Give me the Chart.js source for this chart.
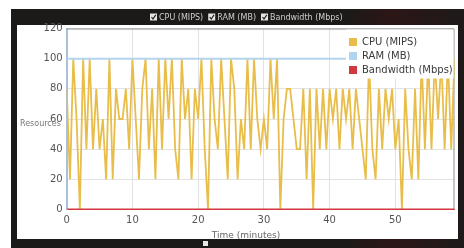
<!DOCTYPE html>
<html>
<head>
<meta charset="utf-8">
<script src="https://cdn.jsdelivr.net/npm/chart.js@4/dist/chart.umd.min.js"></script>
<style>
  html, body { margin: 0; padding: 0; background: #fff; }
  #wrap { position: relative; width: 464px; height: 248px; overflow: hidden; }
  #frame { position: absolute; left: 11px; top: 9px; width: 453px; height: 239px;
    background: linear-gradient(90deg, #1c1a18 0%, #1c1a18 74%, #2c1616 84%, #1e1a19 100%); }
  #panel { position: absolute; left: 17px; top: 25px; width: 441px; height: 214px; background: #fff; }
  #mark { position: absolute; left: 203px; top: 241px; width: 5px; height: 5px; background: #e8e8e8; }
  canvas { position: absolute; left: 0; top: 0; }
</style>
</head>
<body>
<div id="wrap">
  <div id="frame"></div>
  <div id="panel"></div>
  <div id="mark"></div>
  <canvas id="resChart" width="464" height="248"></canvas>
</div>
<script>
// sampling interval of the CPU series, in minutes
const step = 0.5;

// CPU (MIPS), one value every half minute from 0 to 59
const cpuMips = [
  80, 20, 100, 60, 0, 100, 40, 100, 40, 80,
  40, 60, 20, 100, 20, 80, 60, 60, 80, 40,
  100, 60, 20, 80, 100, 40, 80, 20, 100, 40,
  100, 60, 100, 40, 20, 100, 60, 80, 20, 80,
  60, 100, 40, 0, 100, 60, 40, 100, 60, 20,
  100, 80, 20, 60, 40, 100, 40, 100, 60, 40,
  60, 40, 100, 60, 100, 0, 60, 80, 80, 60,
  40, 40, 80, 20, 80, 0, 80, 40, 80, 40,
  80, 60, 80, 40, 80, 60, 80, 40, 80, 60,
  40, 20, 100, 40, 20, 80, 40, 80, 60, 80,
  40, 60, 0, 80, 40, 20, 80, 20, 100, 40,
  100, 40, 100, 60, 100, 40, 100, 40, 100
];

// RAM and bandwidth stay flat over the whole run
const flatTimes = [0, 59];
const ramMB = [100, 100];
const bandwidthMbps = [0, 0];

const seriesLabels = ['CPU (MIPS)', 'RAM (MB)', 'Bandwidth (Mbps)'];
const seriesColors = ['#e8bd4a', '#b3d4ef', '#d2383e'];
const xTitle = 'Time (minutes)';
const yTitle = 'Resources';

const font = 'DejaVu Sans';

const decoPlugin = {
  id: 'deco',
  beforeDatasetsDraw(chart) {
    const { ctx, chartArea: a } = chart;
    ctx.save();
    ctx.strokeStyle = '#8e8e8e';
    ctx.lineWidth = 1;
    ctx.beginPath();
    ctx.moveTo(a.left, a.top + 0.5);
    ctx.lineTo(a.right - 0.5, a.top + 0.5);
    ctx.lineTo(a.right - 0.5, a.bottom);
    ctx.stroke();
    ctx.restore();
  },
  afterDraw(chart) {
    const { ctx, chartArea: a } = chart;
    ctx.save();

    // legend inside the plot, top right
    ctx.fillStyle = '#fff';
    ctx.fillRect(346, a.top + 1, a.right - 347, 49);
    ctx.font = '10px "' + font + '"';
    ctx.textBaseline = 'middle';
    ctx.textAlign = 'left';
    seriesLabels.forEach((lbl, i) => {
      const y = 42 + i * 14;
      ctx.fillStyle = seriesColors[i];
      ctx.fillRect(349, y - 4, 8, 8);
      ctx.fillStyle = '#3a3a3a';
      ctx.fillText(lbl, 362, y + 0.5);
    });

    // check-box strip on the dark bar
    ctx.font = '8px "' + font + '"';
    let x = 150;
    const ty = 17;
    seriesLabels.forEach((lbl) => {
      ctx.fillStyle = '#e4e4e4';
      ctx.fillRect(x, ty - 3.5, 7, 7);
      ctx.strokeStyle = '#222';
      ctx.lineWidth = 1.2;
      ctx.beginPath();
      ctx.moveTo(x + 1.5, ty);
      ctx.lineTo(x + 3, ty + 2);
      ctx.lineTo(x + 5.8, ty - 2.2);
      ctx.stroke();
      ctx.fillStyle = '#cfcfcf';
      ctx.fillText(lbl, x + 9, ty + 0.5);
      x += 9 + ctx.measureText(lbl).width + 5;
    });

    // axis titles
    ctx.fillStyle = '#666';
    ctx.font = '9px "' + font + '"';
    ctx.textAlign = 'center';
    ctx.fillText(xTitle, 246, 236);
    ctx.font = '8px "' + font + '"';
    ctx.textAlign = 'left';
    ctx.fillStyle = '#777';
    ctx.fillText(yTitle, 20, 123.5);

    ctx.restore();
  }
};

new Chart(document.getElementById('resChart'), {
  type: 'line',
  data: {
    datasets: [
      {
        label: seriesLabels[0],
        data: cpuMips.map((v, i) => ({ x: i * step, y: v })),
        borderColor: seriesColors[0],
        borderWidth: 1.8,
        pointRadius: 0,
        order: 2
      },
      {
        label: seriesLabels[1],
        data: ramMB.map((v, i) => ({ x: flatTimes[i], y: v })),
        borderColor: seriesColors[1],
        borderWidth: 2,
        pointRadius: 0,
        order: 1
      },
      {
        label: seriesLabels[2],
        data: bandwidthMbps.map((v, i) => ({ x: flatTimes[i], y: v })),
        borderColor: seriesColors[2],
        borderWidth: 2,
        pointRadius: 0,
        order: 0
      }
    ]
  },
  options: {
    responsive: false,
    animation: false,
    layout: { padding: { left: 0, right: 9.5, top: 28.5, bottom: 0 } },
    plugins: {
      legend: { display: false },
      tooltip: { enabled: false }
    },
    scales: {
      x: {
        type: 'linear',
        min: 0,
        max: 59,
        afterFit: (s) => { s.height = 38.5; },
        afterBuildTicks: (s) => { s.ticks = s.ticks.filter(t => t.value % 10 === 0); },
        grid: { color: '#e2e2e2', drawTicks: false },
        border: { color: '#d2383e' },
        ticks: {
          stepSize: 10,
          padding: 5,
          color: '#555',
          font: { family: font, size: 10 }
        }
      },
      y: {
        min: 0,
        max: 120,
        afterFit: (s) => { s.width = 66.7; },
        grid: { color: '#e2e2e2', drawTicks: false },
        border: { color: '#a9c0d6', width: 2 },
        ticks: {
          stepSize: 20,
          padding: 4,
          color: '#555',
          font: { family: font, size: 10 }
        }
      }
    }
  },
  plugins: [decoPlugin]
});
</script>
</body>
</html>
